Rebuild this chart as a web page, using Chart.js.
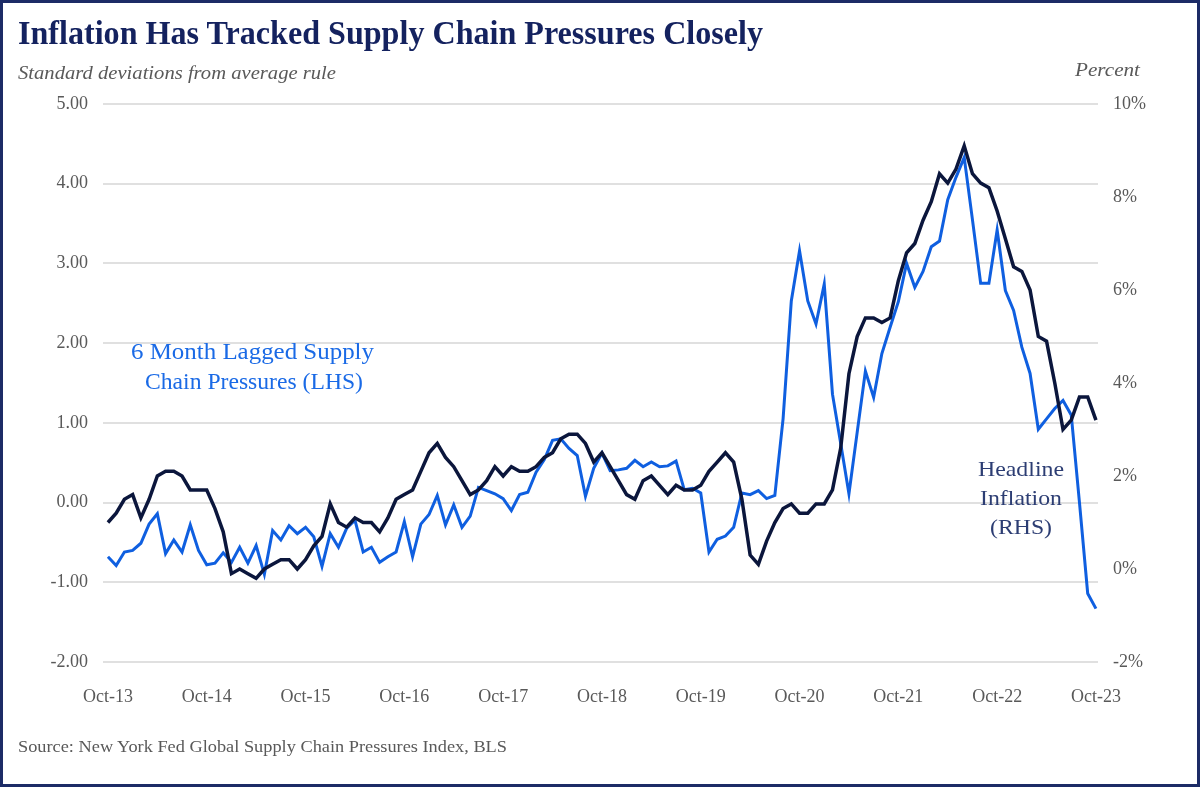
<!DOCTYPE html>
<html>
<head>
<meta charset="utf-8">
<script src="https://cdn.jsdelivr.net/npm/chart.js@4.4.1/dist/chart.umd.min.js"></script>
<style>
  html, body { margin: 0; padding: 0; background: #fff; }
  #frame { position: relative; width: 1200px; height: 787px; overflow: hidden; font-family: "Liberation Serif", "Times New Roman", serif; }
  #frame canvas { position: absolute; left: 0; top: 0; }
  .txt { position: absolute; white-space: nowrap; line-height: 1; transform-origin: 0 0; }
  #border { position: absolute; left: 0; top: 0; width: 1200px; height: 787px; box-sizing: border-box; border: 3px solid #1c2b66; pointer-events: none; }
</style>
</head>
<body>
<div id="frame">
  <canvas id="chart" width="1200" height="787"></canvas>
  <div class="txt" id="title" style="font-size:33px;font-weight:bold;color:#14225f;">Inflation Has Tracked Supply Chain Pressures Closely</div>
  <div class="txt" id="subtitle" style="font-size:18px;font-style:italic;color:#595959;">Standard deviations from average rule</div>
  <div class="txt" id="percent" style="font-size:18px;font-style:italic;color:#595959;">Percent</div>
  <div class="txt" id="annL1" style="font-size:23px;color:#1a6ae6;">6 Month Lagged Supply</div>
  <div class="txt" id="annL2" style="font-size:23px;color:#1a6ae6;">Chain Pressures (LHS)</div>
  <div class="txt" id="annR1" style="font-size:22px;color:#2c3d73;">Headline</div>
  <div class="txt" id="annR2" style="font-size:22px;color:#2c3d73;">Inflation</div>
  <div class="txt" id="annR3" style="font-size:22px;color:#2c3d73;">(RHS)</div>
  <div class="txt" id="source" style="font-size:17px;color:#595959;">Source: New York Fed Global Supply Chain Pressures Index, BLS</div>
  <div id="border"></div>
</div>
<script>
// monthly, Oct-13 .. Oct-23
const xTickLabels = ['Oct-13', 'Oct-14', 'Oct-15', 'Oct-16', 'Oct-17', 'Oct-18', 'Oct-19', 'Oct-20', 'Oct-21', 'Oct-22', 'Oct-23'];

// 6 month lagged supply chain pressures (LHS, std devs)
const supplyChain = [
  -0.68, -0.79, -0.62, -0.60, -0.51, -0.27, -0.14, -0.64, -0.47, -0.62, -0.28, -0.60,
  -0.78, -0.76, -0.63, -0.75, -0.56, -0.76, -0.54, -0.90, -0.35, -0.47, -0.29, -0.39,
  -0.31, -0.43, -0.80, -0.39, -0.56, -0.32, -0.22, -0.62, -0.56, -0.75, -0.68, -0.62,
  -0.24, -0.68, -0.27, -0.15, 0.09, -0.28, -0.03, -0.31, -0.17, 0.19, 0.15, 0.11,
  0.05, -0.10, 0.10, 0.13, 0.38, 0.54, 0.78, 0.80, 0.68, 0.59, 0.08, 0.43,
  0.62, 0.40, 0.41, 0.43, 0.53, 0.45, 0.51, 0.45, 0.46, 0.52, 0.16, 0.18,
  0.12, -0.62, -0.46, -0.42, -0.31, 0.12, 0.10, 0.15, 0.05, 0.09, 1.05, 2.53,
  3.16, 2.53, 2.24, 2.74, 1.36, 0.74, 0.11, 0.88, 1.65, 1.32, 1.87, 2.20,
  2.52, 3.00, 2.70, 2.90, 3.21, 3.28, 3.80, 4.08, 4.33, 3.55, 2.75, 2.75,
  3.42, 2.66, 2.41, 1.95, 1.62, 0.92, 1.05, 1.18, 1.28, 1.10, 0.00, -1.14,
  -1.33
];

// headline inflation (RHS, %)
const inflation = [
  1.0, 1.2, 1.5,
  1.6, 1.1, 1.5, 2.0, 2.1, 2.1, 2.0, 1.7, 1.7, 1.7, 1.3, 0.8,
  -0.1, 0.0, -0.1, -0.2, 0.0, 0.1, 0.2, 0.2, 0.0, 0.2, 0.5, 0.7,
  1.4, 1.0, 0.9, 1.1, 1.0, 1.0, 0.8, 1.1, 1.5, 1.6, 1.7, 2.1,
  2.5, 2.7, 2.4, 2.2, 1.9, 1.6, 1.7, 1.9, 2.2, 2.0, 2.2, 2.1,
  2.1, 2.2, 2.4, 2.5, 2.8, 2.9, 2.9, 2.7, 2.3, 2.5, 2.2, 1.9,
  1.6, 1.5, 1.9, 2.0, 1.8, 1.6, 1.8, 1.7, 1.7, 1.8, 2.1, 2.3,
  2.5, 2.3, 1.5, 0.3, 0.1, 0.6, 1.0, 1.3, 1.4, 1.2, 1.2, 1.4,
  1.4, 1.7, 2.6, 4.2, 5.0, 5.4, 5.4, 5.3, 5.4, 6.2, 6.8, 7.0,
  7.5, 7.9, 8.5, 8.3, 8.6, 9.1, 8.5, 8.3, 8.2, 7.7, 7.1, 6.5,
  6.4, 6.0, 5.0, 4.9, 4.0, 3.0, 3.2, 3.7, 3.7, 3.2
];

const tickFont = { family: '"Liberation Serif", "Times New Roman", serif', size: 18 };
const tickColor = '#595959';

// place text by baseline and squeeze to the reference width
function place(id, x, baseline, width, align) {
  const el = document.getElementById(id);
  const size = parseFloat(el.style.fontSize);
  const natural = el.getBoundingClientRect().width;
  const left = align === 'center' ? x - width / 2 : x;
  el.style.left = left + 'px';
  el.style.top = (baseline - 0.8375 * size) + 'px';
  el.style.transform = 'scaleX(' + (width / natural) + ')';
}

place('title', 18, 45, 745);
place('subtitle', 18, 79, 318);
place('percent', 1075, 76, 65);
place('annL1', 252, 359, 243, 'center');
place('annL2', 254, 389, 218, 'center');
place('annR1', 1021, 476, 86, 'center');
place('annR2', 1021, 505, 82, 'center');
place('annR3', 1021, 534, 62, 'center');
place('source', 18, 752, 489);

const ctx = document.getElementById('chart').getContext('2d');
new Chart(ctx, {
  type: 'line',
  data: {
    datasets: [
      {
        label: 'Headline Inflation (RHS)',
        data: inflation.map((v, i) => ({ x: i, y: v })),
        yAxisID: 'y1',
        borderColor: '#0b163c',
        borderWidth: 3.5,
        pointRadius: 0,
        tension: 0,
      },
      {
        label: '6 Month Lagged Supply Chain Pressures (LHS)',
        data: supplyChain.map((v, i) => ({ x: i, y: v })),
        yAxisID: 'y',
        borderColor: '#0f5fe0',
        borderWidth: 3,
        pointRadius: 0,
        tension: 0,
      },
    ]
  },
  options: {
    responsive: false,
    animation: false,
    devicePixelRatio: 1,
    layout: { padding: { top: 104, bottom: 85, left: 0, right: 0 } },
    plugins: { legend: { display: false }, tooltip: { enabled: false } },
    scales: {
      x: {
        type: 'linear',
        min: -0.6,
        max: 120.25,
        afterBuildTicks: s => { s.ticks = xTickLabels.map((_, k) => ({ value: k * 12 })); },
        afterFit: s => { s.height = 40; },
        ticks: {
          callback: v => xTickLabels[Math.round(v / 12)],
          padding: 16,
          maxRotation: 0,
          autoSkip: false,
          color: tickColor,
          font: tickFont,
        },
        grid: { display: false },
        border: { display: false },
      },
      y: {
        position: 'left',
        min: -2,
        max: 5,
        afterFit: s => { s.width = 103; },
        ticks: { stepSize: 1, callback: v => v.toFixed(2), padding: 15, color: tickColor, font: tickFont },
        grid: { color: '#e0e0e0', lineWidth: 2, drawTicks: false },
        border: { display: false },
      },
      y1: {
        position: 'right',
        min: -2,
        max: 10,
        afterFit: s => { s.width = 102; },
        ticks: { stepSize: 2, callback: v => v + '%', padding: 7, color: tickColor, font: tickFont },
        grid: { display: false },
        border: { display: false },
      },
    },
  },
});
</script>
</body>
</html>
